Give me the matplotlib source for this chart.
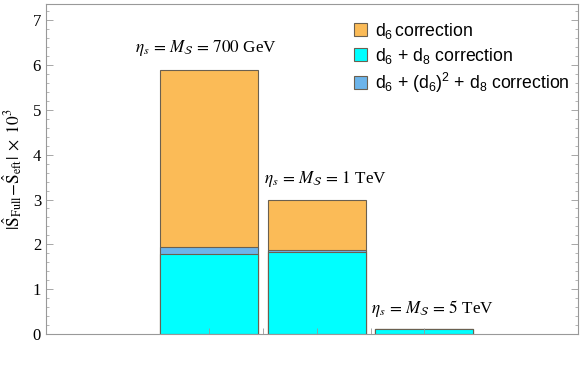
import numpy as np
import matplotlib
matplotlib.use("Agg")
import matplotlib.pyplot as plt
from matplotlib.patches import Patch
from matplotlib.ticker import MultipleLocator

# values (x 10^3)
labels = [r'$\eta_s\,=\,M_\mathcal{S}\,=\,700$ GeV',
          r'$\eta_s\,=\,M_\mathcal{S}\,=\,1$ TeV',
          r'$\eta_s\,=\,M_\mathcal{S}\,=\,5$ TeV']
d6 = [5.90, 2.99, 0.10]
d6_sq_d8 = [1.93, 1.87, 0.10]
d6_d8 = [1.78, 1.83, 0.10]

c_orange = '#fbbb57'
c_blue = '#6cb4ea'
c_cyan = '#00ffff'
edge = '#6b6050'

plt.rcParams['mathtext.fontset'] = 'stix'
plt.rcParams['font.family'] = ['Liberation Serif', 'DejaVu Serif']

fig = plt.figure(figsize=(5.81, 3.67), dpi=100)
ax = fig.add_axes([0.079, 0.09, 0.916, 0.9])

x = np.arange(1, len(d6) + 1)
w = 0.91
ax.bar(x, d6, width=w, color=c_orange, edgecolor=edge, linewidth=0.8, zorder=1)
ax.bar(x, d6_sq_d8, width=w, color=c_blue, edgecolor=edge, linewidth=0.8, zorder=1.1)
ax.bar(x, d6_d8, width=w, color=c_cyan, edgecolor=edge, linewidth=0.8, zorder=1.2)

offs = [-0.03, 0.08, 0.08]
for xi, top, lab, o in zip(x, d6, labels, offs):
    ax.text(xi + o, top + 0.47, lab, ha='center', va='center', fontsize=12.3)

ax.set_xlim(-0.52, 4.43)
ax.set_ylim(0, 7.37)
ax.yaxis.set_major_locator(MultipleLocator(1))
ax.yaxis.set_minor_locator(MultipleLocator(0.2))
ax.set_xticks([1, 1.5, 2, 2.5, 3])
ax.set_xticklabels([])
ax.tick_params(axis='y', which='major', direction='in', length=5, width=0.6,
               colors='#999999', labelcolor='black', labelsize=12, right=True)
ax.tick_params(axis='y', which='minor', direction='in', length=2.5, width=0.5,
               colors='#999999', right=True)
ax.tick_params(axis='x', direction='in', length=4, width=0.6, colors='#999999')
for s in ax.spines.values():
    s.set_color('#999999')
    s.set_linewidth(0.8)

ax.set_ylabel(r'$|\hat{\mathrm{S}}_{\mathrm{Full}}\!-\!\hat{\mathrm{S}}_{\mathrm{eft}}|\;\times\;10^3$',
              fontsize=12.5, labelpad=6)

handles = [Patch(facecolor=c_orange, edgecolor=edge, linewidth=0.8),
           Patch(facecolor=c_cyan, edgecolor=edge, linewidth=0.8),
           Patch(facecolor=c_blue, edgecolor=edge, linewidth=0.8)]
leg_labels = [r'$\mathregular{d_6}\,$correction',
              r'$\mathregular{d_6}$ + $\mathregular{d_8}$ correction',
              r'$\mathregular{d_6}$ + $\mathregular{(d_6)^2}$ + $\mathregular{d_8}$ correction']
ax.legend(handles, leg_labels, loc='upper right', frameon=False,
          prop={'family': 'Liberation Sans', 'size': 12.7},
          handlelength=0.75, handleheight=0.75, handletextpad=0.45,
          labelspacing=0.28, borderaxespad=0.0, bbox_to_anchor=(0.997, 0.97))

fig.savefig('out.png', dpi=100)
